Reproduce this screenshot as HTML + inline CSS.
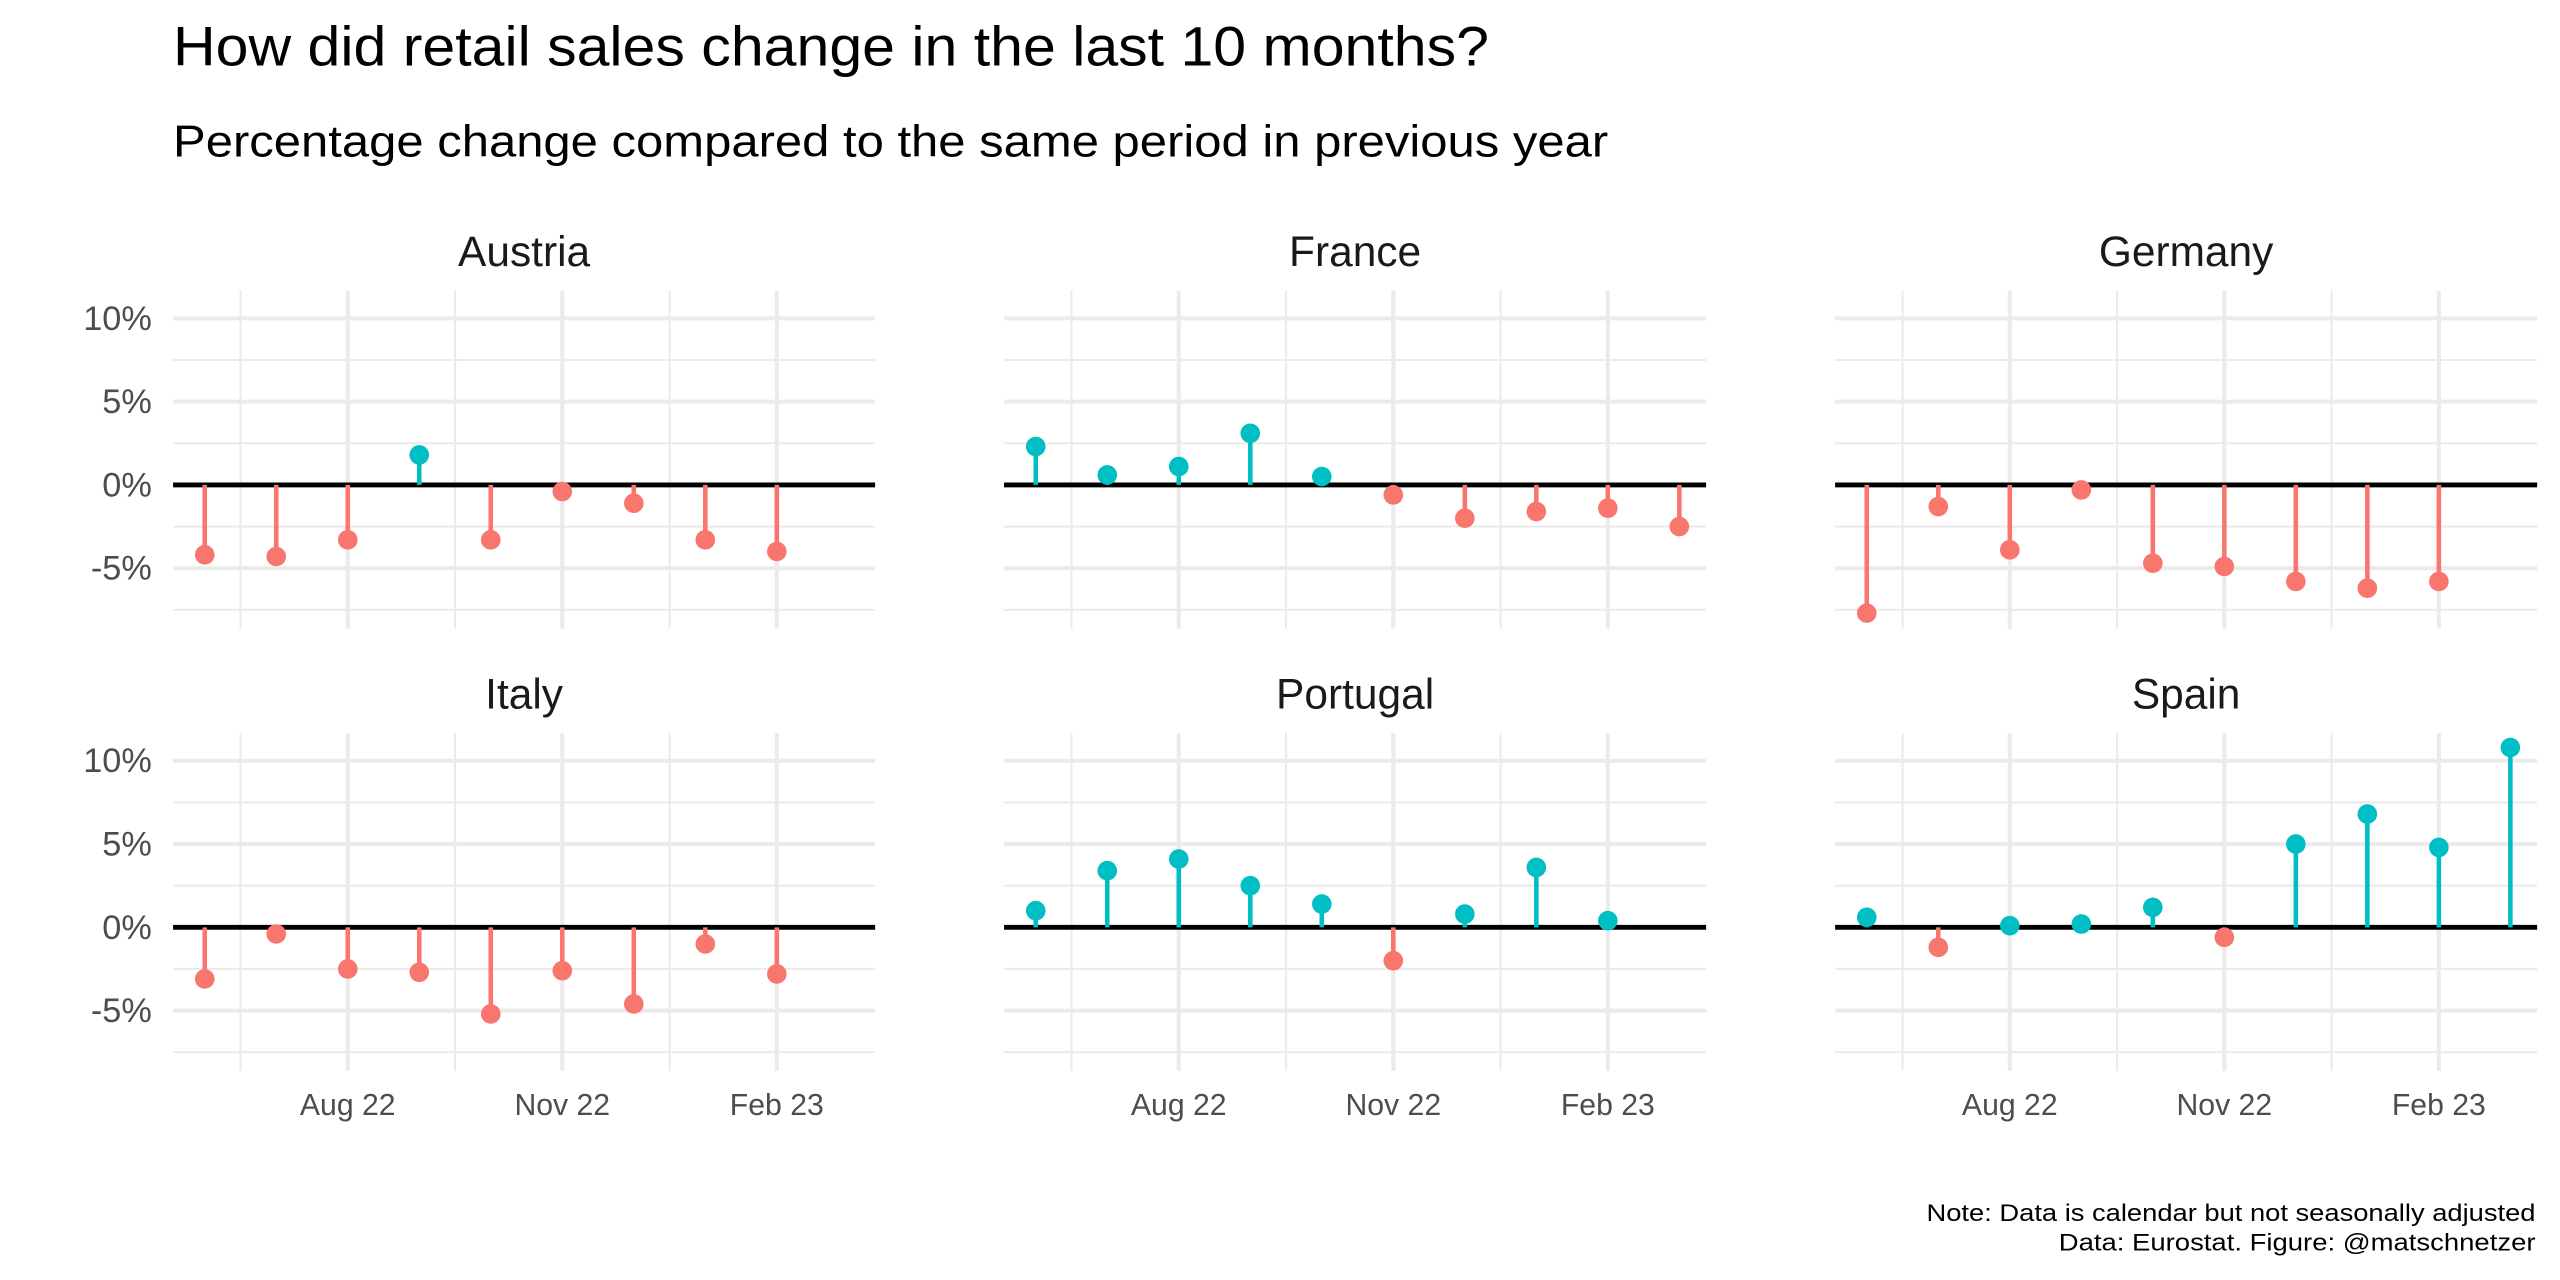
<!DOCTYPE html>
<html><head><meta charset="utf-8"><style>
html,body{margin:0;padding:0;background:#fff}
svg{display:block;font-family:"Liberation Sans",sans-serif}
</style></head><body>
<svg id="chart" width="2560" height="1280" viewBox="0 0 1568 784" xmlns="http://www.w3.org/2000/svg">
<rect width="1568" height="784" fill="#fff"/>
<text x="106" y="40" font-size="34" fill="#000" textLength="806" lengthAdjust="spacingAndGlyphs">How did retail sales change in the last 10 months?</text>
<text x="106" y="96" font-size="27" fill="#000" textLength="879" lengthAdjust="spacingAndGlyphs">Percentage change compared to the same period in previous year</text>
<text x="1553" y="748" font-size="15" text-anchor="end" fill="#000" textLength="373" lengthAdjust="spacingAndGlyphs">Note: Data is calendar but not seasonally adjusted</text>
<text x="1553" y="766" font-size="15" text-anchor="end" fill="#000" textLength="292" lengthAdjust="spacingAndGlyphs">Data: Eurostat. Figure: @matschnetzer</text>
<g id="panels"></g>
</svg>
<script>
const countries = ["Austria","France","Germany","Italy","Portugal","Spain"];
const months = ["Jun 22","Jul 22","Aug 22","Sep 22","Oct 22","Nov 22","Dec 22","Jan 23","Feb 23","Mar 23"];
const austria = [-4.2,-4.3,-3.3,1.8,-3.3,-0.4,-1.1,-3.3,-4.0,null];
const france = [2.3,0.6,1.1,3.1,0.5,-0.6,-2.0,-1.6,-1.4,-2.5];
const germany = [-7.7,-1.3,-3.9,-0.3,-4.7,-4.9,-5.8,-6.2,-5.8,null];
const italy = [-3.1,-0.4,-2.5,-2.7,-5.2,-2.6,-4.6,-1.0,-2.8,null];
const portugal = [1.0,3.4,4.1,2.5,1.4,-2.0,0.8,3.6,0.4,null];
const spain = [0.6,-1.2,0.1,0.2,1.2,-0.6,5.0,6.8,4.8,10.8];
const yTicks = [-5,0,5,10];
const yTickLabels = ["-5%","0%","5%","10%"];
const yMinor = [-7.5,-2.5,2.5,7.5];
const xTickIdx = [2,5,8];
const xTickLabels = ["Aug 22","Nov 22","Feb 23"];
const series = [austria,france,germany,italy,portugal,spain];

const NS="http://www.w3.org/2000/svg";
const g=document.getElementById('panels');
function mk(tag,attrs,parent){const e=document.createElementNS(NS,tag);for(const k in attrs)e.setAttribute(k,attrs[k]);parent.appendChild(e);return e;}
const panelW=430, monthW=43.8, firstOff=19.4;
const lefts=[106,615,1124];
const zeros=[297,568];
const pxPer=10.2;
series.forEach((data,i)=>{
  const col=i%3,row=Math.floor(i/3);
  const L=lefts[col], y0=zeros[row];
  const top=y0-119, bot=y0+88;
  const x=k=>L+firstOff+k*monthW;
  const y=v=>y0-v*pxPer;
  const p=mk('g',{},g);
  
  
  const t=mk('text',{x:L+panelW/2,y:y0-134,'font-size':26,'text-anchor':'middle',fill:'#1a1a1a'},p);
  t.textContent=countries[i];
  
  
  yMinor.forEach(v=>{const l=mk('line',{x1:L,x2:L+panelW,y1:y(v),y2:y(v),stroke:'#ebebeb','stroke-width':1.3},p);
    });
  [0.5,3.5,6.5].forEach(k=>{const l=mk('line',{x1:x(k),x2:x(k),y1:top,y2:bot,stroke:'#ebebeb','stroke-width':1.3},p);
    });
  yTicks.forEach((v,j)=>{const l=mk('line',{x1:L,x2:L+panelW,y1:y(v),y2:y(v),stroke:'#ebebeb','stroke-width':2.5},p);
    
    if(col===0){const tx=mk('text',{x:93,y:y(v)+7,'font-size':21,'text-anchor':'end',fill:'#4d4d4d'},p);
      tx.textContent=yTickLabels[j];}});
  xTickIdx.forEach((k,j)=>{const l=mk('line',{x1:x(k),x2:x(k),y1:top,y2:bot,stroke:'#ebebeb','stroke-width':2.5},p);
    
    if(row===1){const tx=mk('text',{x:x(k),y:683,'font-size':18.5,'text-anchor':'middle',fill:'#4d4d4d'},p);
      tx.textContent=xTickLabels[j];}});
  const z=mk('line',{x1:L,x2:L+panelW,y1:y0,y2:y0,stroke:'#000','stroke-width':3},p);
  
  data.forEach((v,k)=>{
    if(v===null)return;
    const c=v>=0?'#00BFC4':'#F8766D';
    const s=mk('line',{x1:x(k),x2:x(k),y1:y0,y2:y(v),stroke:c,'stroke-width':2.8},p);
    
    const d=mk('circle',{cx:x(k),cy:y(v),r:6,fill:c},p);
    
  });
});
</script>
</body></html>
